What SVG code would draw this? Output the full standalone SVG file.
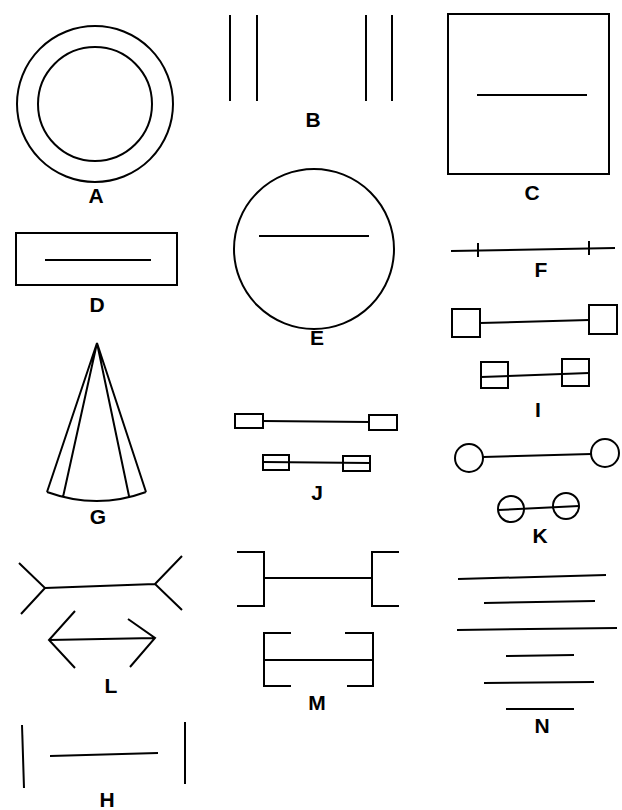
<svg xmlns="http://www.w3.org/2000/svg" width="622" height="810" viewBox="0 0 622 810">
<style>
.s{fill:none;stroke:#000;stroke-width:2;stroke-linecap:butt;stroke-linejoin:miter}
.l{font-family:"Liberation Sans",Arial,sans-serif;font-weight:bold;font-size:21px;fill:#000;text-anchor:middle}
</style>
<rect width="622" height="810" fill="#fff"/>
<g id="A">
<circle class="s" cx="95" cy="104" r="78"/>
<circle class="s" cx="95" cy="104" r="57"/>
<text class="l" x="96" y="203">A</text>
</g>
<g id="B">
<line class="s" x1="230" y1="15" x2="230" y2="101"/>
<line class="s" x1="257" y1="15" x2="257" y2="101"/>
<line class="s" x1="366" y1="15" x2="366" y2="101"/>
<line class="s" x1="392" y1="15" x2="392" y2="101"/>
<text class="l" x="313" y="127">B</text>
</g>
<g id="C">
<rect class="s" x="448" y="14" width="161" height="160"/>
<line class="s" x1="477" y1="95" x2="587" y2="95"/>
<text class="l" x="532" y="200">C</text>
</g>
<g id="D">
<rect class="s" x="16" y="233" width="161" height="52"/>
<line class="s" x1="45" y1="260" x2="151" y2="260"/>
<text class="l" x="97" y="312">D</text>
</g>
<g id="E">
<circle class="s" cx="314" cy="249" r="80"/>
<line class="s" x1="259" y1="236" x2="369" y2="236"/>
<text class="l" x="317" y="345">E</text>
</g>
<g id="F">
<line class="s" x1="451" y1="251" x2="615" y2="248"/>
<line class="s" x1="478" y1="243" x2="478" y2="257"/>
<line class="s" x1="589" y1="241" x2="589" y2="255"/>
<text class="l" x="541" y="277">F</text>
</g>
<g id="G">
<path class="s" d="M97 343 L47 492 M97 343 L63 497 M97 343 L129 496 M97 343 L146 492 M47 492 Q97 510 146 492"/>
<text class="l" x="98" y="524">G</text>
</g>
<g id="I">
<rect class="s" x="452" y="309" width="28" height="28"/>
<rect class="s" x="589" y="305" width="28" height="29"/>
<line class="s" x1="480" y1="323" x2="589" y2="320"/>
<rect class="s" x="481" y="362" width="27" height="26"/>
<rect class="s" x="562" y="359" width="27" height="27"/>
<line class="s" x1="481" y1="377" x2="589" y2="373"/>
<text class="l" x="538" y="417">I</text>
</g>
<g id="J">
<rect class="s" x="235" y="414" width="28" height="14"/>
<rect class="s" x="369" y="415" width="28" height="15"/>
<line class="s" x1="263" y1="421" x2="369" y2="422"/>
<rect class="s" x="263" y="455" width="26" height="15"/>
<rect class="s" x="343" y="456" width="27" height="15"/>
<line class="s" x1="263" y1="462" x2="370" y2="463"/>
<text class="l" x="317" y="500">J</text>
</g>
<g id="K">
<circle class="s" cx="469" cy="458" r="14"/>
<circle class="s" cx="605" cy="453" r="14"/>
<line class="s" x1="483" y1="457" x2="591" y2="454"/>
<circle class="s" cx="511" cy="509" r="13"/>
<circle class="s" cx="566" cy="506" r="13"/>
<line class="s" x1="498" y1="510" x2="579" y2="506"/>
<text class="l" x="540" y="543">K</text>
</g>
<g id="L">
<path class="s" d="M19 563 L45 588 L21 614 M45 588 L155 584 M182 556 L155 584 L182 610"/>
<path class="s" d="M75 611 L49 640 L75 668 M49 640 L155 638 M128 619 L155 638 L130 667"/>
<text class="l" x="111" y="693">L</text>
</g>
<g id="M">
<path class="s" d="M237 552 H264 V606 H237 M399 552 H372 V606 H399 M264 578 H372"/>
<path class="s" d="M291 633 H264 V686 H291 M345 633 H373 V686 H347 M264 660 H373"/>
<text class="l" x="317" y="710">M</text>
</g>
<g id="N">
<line class="s" x1="458" y1="579" x2="606" y2="575"/>
<line class="s" x1="484" y1="603" x2="595" y2="601"/>
<line class="s" x1="457" y1="630" x2="617" y2="628"/>
<line class="s" x1="506" y1="656" x2="574" y2="655"/>
<line class="s" x1="484" y1="683" x2="594" y2="682"/>
<line class="s" x1="506" y1="709" x2="574" y2="709"/>
<text class="l" x="542" y="733">N</text>
</g>
<g id="H">
<line class="s" x1="22" y1="725" x2="24" y2="788"/>
<line class="s" x1="185" y1="722" x2="185" y2="784"/>
<line class="s" x1="50" y1="756" x2="158" y2="753"/>
<text class="l" x="107" y="807">H</text>
</g>
<g id="connectors"/>
</svg>
